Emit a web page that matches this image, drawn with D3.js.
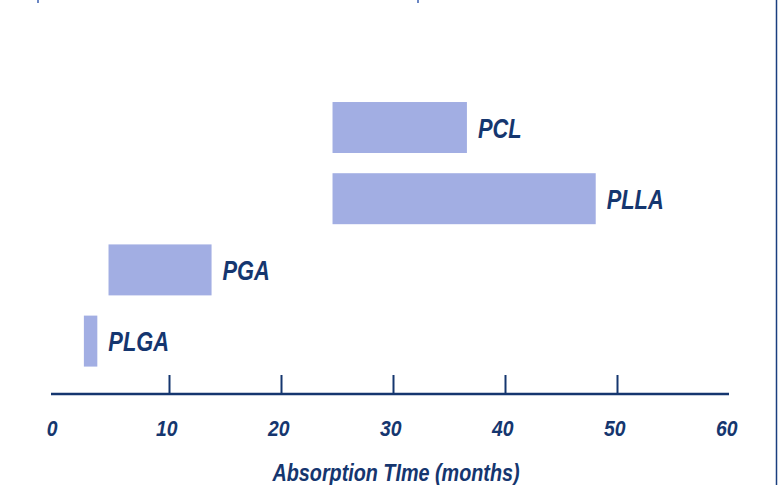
<!DOCTYPE html>
<html>
<head>
<meta charset="utf-8">
<script src="https://cdn.jsdelivr.net/npm/d3@7"></script>
<style>
  html, body { margin: 0; padding: 0; background: #fff; }
  svg { display: block; }
</style>
</head>
<body>
<div id="chart"></div>
<script>
'use strict';

// data
const polymers = ["PCL", "PLLA", "PGA", "PLGA"];
const startMonths = [24.6, 24.6, 4.6, 2.4];
const endMonths = [36.6, 48.1, 13.8, 3.6];
const tickValues = [0, 10, 20, 30, 40, 50, 60];
const axisTitle = "Absorption TIme (months)";

const width = 778;
const height = 485;
const navy = "#15366f";
const barFill = "#a2aee3";
// no condensed face installed, so squeeze a bold italic sans horizontally
const font = "'Liberation Sans', Arial, sans-serif";

const svg = d3.select("#chart")
    .append("svg")
    .attr("width", width)
    .attr("height", height);

const x = d3.scaleLinear()
    .domain([0, 60])
    .range([57, 729]);

const y = d3.scaleBand()
    .domain(polymers)
    .range([81.8, 386.8])
    .padding(0.284);

const rows = polymers.map((p, i) => ({ name: p, start: startMonths[i], end: endMonths[i] }));

function condensed(sel, size) {
    sel.attr("fill", navy)
        .style("font-family", font)
        .style("font-style", "italic")
        .style("font-weight", "bold")
        .style("font-size", size + "px");
    return sel;
}

// bars
svg.append("g")
    .selectAll("rect")
    .data(rows)
    .enter()
    .append("rect")
    .attr("x", d => x(d.start))
    .attr("y", d => y(d.name))
    .attr("width", d => x(d.end) - x(d.start))
    .attr("height", y.bandwidth())
    .attr("fill", barFill);

// labels next to bars
svg.append("g")
    .selectAll("text")
    .data(rows)
    .enter()
    .append("text")
    .attr("transform", d => `translate(${x(d.end) + 11},${y(d.name) + y.bandwidth() / 2 + 10}) scale(0.78,1)`)
    .call(condensed, 28)
    .text(d => d.name);

// axis
const axisY = 394;
const axis = d3.axisBottom(x)
    .tickValues(tickValues)
    .tickSizeInner(-19)
    .tickSizeOuter(0)
    .tickPadding(26);

const gAxis = svg.append("g")
    .attr("transform", `translate(0,${axisY})`)
    .call(axis);

gAxis.select(".domain").remove();
gAxis.selectAll(".tick line")
    .attr("stroke", navy)
    .attr("stroke-width", 2)
    .filter(d => d === 0 || d === 60)
    .remove();
gAxis.selectAll(".tick text")
    .attr("dx", d => d === 0 ? -6 : -3)
    .attr("transform", "scale(0.88,1)")
    .call(condensed, 22);

svg.append("line")
    .attr("x1", x.range()[0] - 6)
    .attr("x2", x.range()[1])
    .attr("y1", axisY)
    .attr("y2", axisY)
    .attr("stroke", navy)
    .attr("stroke-width", 2.5);

// axis title
svg.append("text")
    .attr("transform", "translate(396,481) scale(0.86,1)")
    .attr("text-anchor", "middle")
    .call(condensed, 23)
    .text(axisTitle);

// frame line on the right and small marks at top edge
svg.append("line")
    .attr("x1", 776.5).attr("x2", 776.5)
    .attr("y1", 0).attr("y2", height)
    .attr("stroke", "#1a3f7f")
    .attr("stroke-width", 1.5);

svg.selectAll(".topmark")
    .data([38, 418])
    .enter()
    .append("line")
    .attr("class", "topmark")
    .attr("x1", d => d).attr("x2", d => d)
    .attr("y1", 0).attr("y2", 3)
    .attr("stroke", "#3a5fb0")
    .attr("stroke-width", 1.5);
</script>
</body>
</html>
